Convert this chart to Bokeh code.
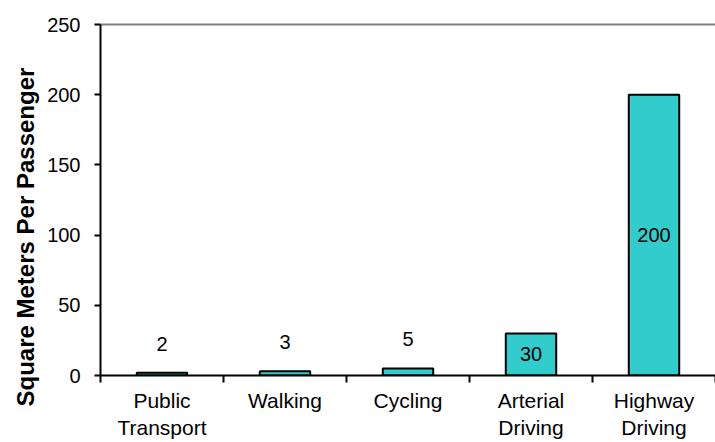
import numpy as np
from bokeh.plotting import figure
from bokeh.models import FixedTicker, Range1d, Title, LinearAxis
from bokeh.embed import file_html
from bokeh.resources import INLINE
from bokeh.core.properties import value

categories = ["Public\nTransport", "Walking", "Cycling", "Arterial\nDriving", "Highway\nDriving"]
values = [2, 3, 5, 30, 200]
y_ticks = [0, 50, 100, 150, 200, 250]
y_title = "Square Meters Per Passenger"

FONT = "Liberation Sans"
n = len(categories)
xs = [i + 0.5 for i in range(n)]

p = figure(width=715, height=442, output_backend="svg", toolbar_location=None,
           x_range=Range1d(0, n), y_range=Range1d(y_ticks[0], y_ticks[-1]),
           min_border_left=100, min_border_right=0, min_border_top=24, min_border_bottom=66)
p.outline_line_color = None
p.background_fill_color = "white"
p.border_fill_color = "white"

# bars
p.vbar(x=xs, top=values, width=0.41, fill_color="#33CCCC", line_color="black", line_width=2)

# data labels
small = [(x, v) for x, v in zip(xs, values) if v < 20]
large = [(x, v) for x, v in zip(xs, values) if v >= 20]
p.text(x=[s[0] for s in small], y=[s[1] for s in small], text=[str(s[1]) for s in small],
       y_offset=-29, text_align="center", text_baseline="middle",
       text_font=value(FONT), text_font_size="20px", text_color="black")
p.text(x=[s[0] for s in large], y=[s[1] / 2 for s in large], text=[str(s[1]) for s in large],
       text_align="center", text_baseline="middle",
       text_font=value(FONT), text_font_size="20px", text_color="black")

# x axis: labels at category centres, ticks at category boundaries
xa = p.xaxis[0]
xa.ticker = FixedTicker(ticks=xs, minor_ticks=list(range(n + 1)))
xa.major_label_overrides = {x: c for x, c in zip(xs, categories)}
xa.major_tick_out = 0
xa.major_tick_in = 0
xa.minor_tick_out = 7
xa.minor_tick_in = 0
xa.minor_tick_line_color = "black"
xa.minor_tick_line_width = 2
xa.axis_line_color = "black"
xa.axis_line_width = 2
xa.major_label_standoff = 6
xa.major_label_text_font = FONT
xa.major_label_text_font_size = "21px"
xa.major_label_text_color = "black"

# y axis
ya = p.yaxis[0]
ya.ticker = FixedTicker(ticks=y_ticks, minor_ticks=[])
ya.major_tick_out = 6
ya.major_tick_in = 0
ya.major_tick_line_color = "black"
ya.major_tick_line_width = 2
ya.axis_line_color = "black"
ya.axis_line_width = 2
ya.major_label_standoff = 14
ya.major_label_text_font = FONT
ya.major_label_text_font_size = "20px"
ya.major_label_text_color = "black"

# top border line (grey) at the top of the value range
top = LinearAxis(ticker=FixedTicker(ticks=[]), axis_line_color="#808080", axis_line_width=2,
                 major_tick_line_color=None, minor_tick_line_color=None,
                 major_label_text_font_size="0px")
p.add_layout(top, "above")

p.xgrid.grid_line_color = None
p.ygrid.grid_line_color = None

# y axis title
t = Title(text=y_title, align="left", offset=-31, text_font=FONT, text_font_size="24px",
          text_font_style="bold", text_color="black", standoff=12)
p.add_layout(t, "left")

open("out.html", "w").write(file_html(p, INLINE))
